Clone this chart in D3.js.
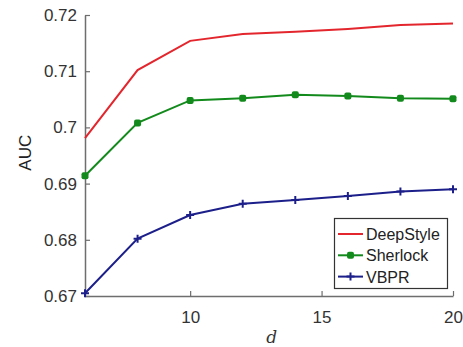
<!DOCTYPE html>
<html>
<head>
<meta charset="utf-8">
<script src="https://cdn.jsdelivr.net/npm/d3@7"></script>
<style>
  body { margin: 0; background: #fff; }
  svg { display: block; font-family: "Liberation Sans", Arial, sans-serif; }
</style>
</head>
<body>
<svg width="463" height="347"></svg>
<script>
// embedding size d on the x axis
const dims = [6, 8, 10, 12, 14, 16, 18, 20];
const deepStyle = [0.6981, 0.7102, 0.7154, 0.7166, 0.7170, 0.7175, 0.7182, 0.7185];
const sherlock  = [0.6914, 0.7008, 0.7048, 0.7052, 0.7058, 0.7056, 0.7052, 0.7051];
const vbpr      = [0.6705, 0.6802, 0.6844, 0.6864, 0.6871, 0.6878, 0.6886, 0.6890];
const xTicks = [10, 15, 20];
const yTicks = [0.67, 0.68, 0.69, 0.70, 0.71, 0.72];

const series = [
  { name: "DeepStyle", values: deepStyle, color: "#e3262d", marker: "none" },
  { name: "Sherlock",  values: sherlock,  color: "#138a1c", marker: "square" },
  { name: "VBPR",      values: vbpr,      color: "#1c1f8a", marker: "plus" }
];

const svg = d3.select("svg");
const margin = {top: 15, right: 10, bottom: 51, left: 85};
const W = 463, H = 347;

const x = d3.scaleLinear().domain([6, 20]).range([margin.left, W - margin.right]);
const y = d3.scaleLinear().domain([0.67, 0.72]).range([H - margin.bottom, margin.top]);

// axes, ticks pointing inward
const axisColor = "#6e6e6e";
const gx = svg.append("g")
  .attr("transform", `translate(0,${y(0.67)})`)
  .call(d3.axisBottom(x).tickValues(xTicks).tickSizeInner(-5).tickSizeOuter(0).tickPadding(15).tickFormat(d3.format("d")));
const gy = svg.append("g")
  .attr("transform", `translate(${x(6)},0)`)
  .call(d3.axisLeft(y).tickValues(yTicks).tickSizeInner(-5).tickSizeOuter(0).tickPadding(8)
    .tickFormat(d => d === 0.7 ? "0.7" : d3.format(".2f")(d)));

[gx, gy].forEach(g => {
  g.select(".domain").attr("stroke", axisColor).attr("stroke-width", 1.5);
  g.selectAll(".tick line").attr("stroke", axisColor).attr("stroke-width", 1.2);
  g.selectAll(".tick text").attr("fill", "#333").style("font-size", "17px").style("font-family", "Liberation Sans, Arial, sans-serif");
});

// axis titles
svg.append("text")
  .attr("x", x(13.1)).attr("y", 343)
  .attr("text-anchor", "middle")
  .style("font-family", "DejaVu Serif, serif").style("font-style", "italic")
  .style("font-size", "17px").attr("fill", "#333")
  .text("d");

svg.append("text")
  .attr("transform", `translate(31,${y(0.6955)}) rotate(-90)`)
  .attr("text-anchor", "middle")
  .style("font-size", "17px").attr("fill", "#222")
  .text("AUC");

const line = d3.line().x((d, i) => x(dims[i])).y(d => y(d));

function drawMarker(g, type, cx, cy, color) {
  if (type === "square") {
    g.append("rect").attr("x", cx - 3.5).attr("y", cy - 3.5).attr("width", 7).attr("height", 7)
      .attr("rx", 2).attr("fill", color);
  } else if (type === "plus") {
    g.append("path").attr("d", `M${cx - 4},${cy}H${cx + 4}M${cx},${cy - 4}V${cy + 4}`)
      .attr("stroke", color).attr("stroke-width", 2);
  }
}

series.forEach(s => {
  const g = svg.append("g");
  g.append("path").datum(s.values)
    .attr("d", line).attr("fill", "none")
    .attr("stroke", s.color).attr("stroke-width", 2);
  s.values.forEach((v, i) => drawMarker(g, s.marker, x(dims[i]), y(v), s.color));
});

// legend
const lg = svg.append("g");
lg.append("rect").attr("x", 334.5).attr("y", 218.5).attr("width", 113).attr("height", 70)
  .attr("fill", "#fff").attr("stroke", "#333").attr("stroke-width", 1.2);
series.forEach((s, i) => {
  const ly = 234 + i * 21.3;
  lg.append("line").attr("x1", 338).attr("x2", 363).attr("y1", ly).attr("y2", ly)
    .attr("stroke", s.color).attr("stroke-width", 2);
  drawMarker(lg, s.marker, 350.5, ly, s.color);
  lg.append("text").attr("x", 366).attr("y", ly + 6)
    .style("font-size", "16px").attr("fill", "#222").text(s.name);
});
</script>
</body>
</html>
